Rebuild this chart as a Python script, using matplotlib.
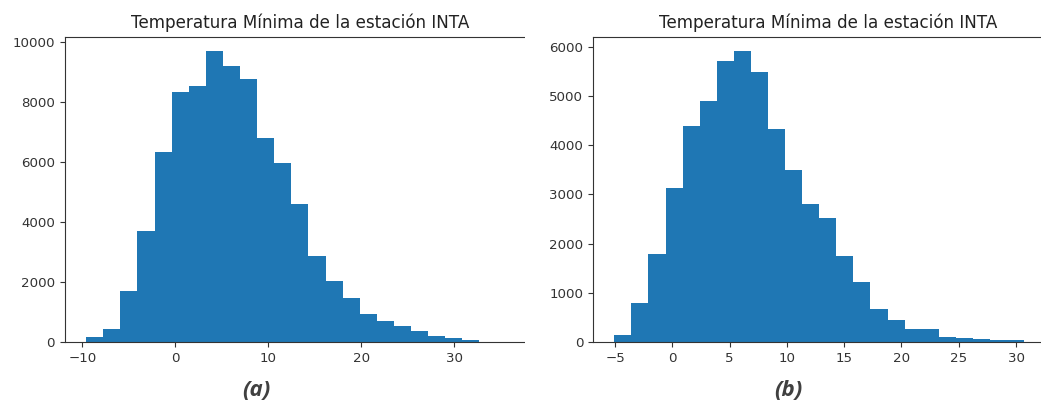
import matplotlib
matplotlib.use("Agg")
import matplotlib.pyplot as plt
from matplotlib.patches import Rectangle
import numpy as np

# Minimum temperature histograms, two INTA stations (25 bins each)
counts_a = [167, 447, 1705, 3712, 6334, 8340, 8541, 9698, 9196, 8775,
            6812, 5966, 4605, 2866, 2040, 1471, 949, 715, 535, 358,
            214, 124, 57, 15, 4]
tmin_a, tmax_a = -9.6, 36.38

counts_b = [134, 794, 1792, 3125, 4385, 4894, 5715, 5912, 5499, 4324,
            3495, 2811, 2525, 1758, 1214, 678, 448, 271, 271, 102,
            73, 67, 47, 40, 10]
tmin_b, tmax_b = -5.06, 32.19

title = "Temperatura Mínima de la estación INTA"
captions = ["(a)", "(b)"]

W, H = 1041, 405
fig = plt.figure(figsize=(W / 100, H / 100), dpi=100)
fig.patch.set_facecolor("white")

# axes boxes in pixels: left, right, top, bottom
boxes = [(64.8, 535.0, 36.7, 342.0), (593.0, 1062.5, 36.7, 342.0)]
panels = [(counts_a, tmin_a, tmax_a), (counts_b, tmin_b, tmax_b)]

for (x0, x1, yt, yb), (counts, lo, hi) in zip(boxes, panels):
    ax = fig.add_axes([x0 / W, 1 - yb / H, (x1 - x0) / W, (yb - yt) / H])
    edges = np.linspace(lo, hi, len(counts) + 1)
    ax.hist(edges[:-1], bins=edges, weights=counts, color="#1f77b4")
    ax.set_title(title, fontsize=12.1, pad=6, color="#222222")
    ax.tick_params(labelsize=9.6, colors="#333333")
    for sp in ax.spines.values():
        sp.set_color("#333333")

# the first panel is cut short on its right side
fig.add_artist(Rectangle((525 / W, 0), 21 / W, 1, transform=fig.transFigure,
                         facecolor="white", edgecolor="none", zorder=5))

for label, cx in zip(captions, [256, 788]):
    fig.text(cx / W, 1 - 391 / H, label, ha="center", va="center",
             fontsize=16, fontweight="bold", fontstyle="italic",
             family=["Open Sans", "DejaVu Sans"], color="#404040")

plt.savefig("out.png", dpi=100, facecolor="white")
